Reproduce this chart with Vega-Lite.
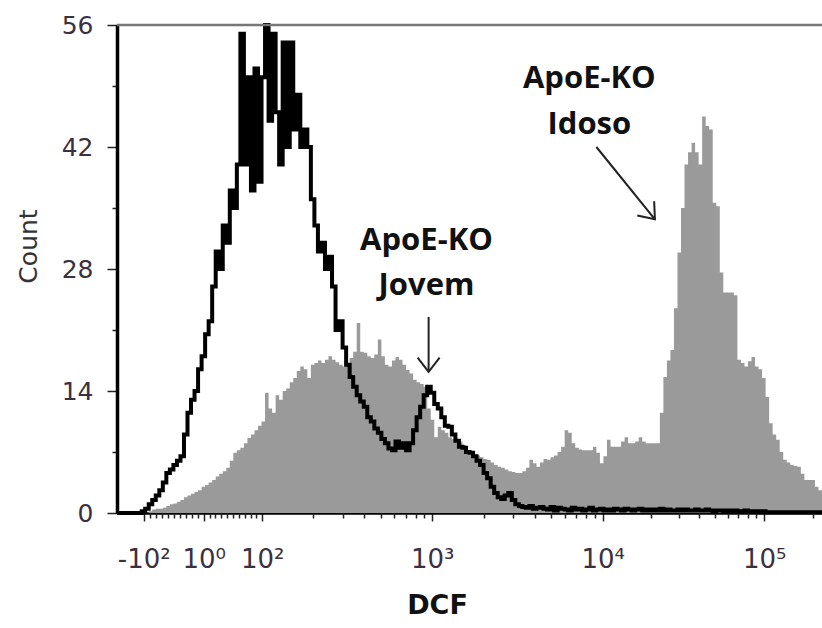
{
  "$schema": "https://vega.github.io/schema/vega-lite/v6.json",
  "width": 705,
  "height": 488,
  "autosize": {"type": "none"},
  "padding": {"left": 117, "top": 25, "right": 0, "bottom": 115},
  "background": "white",
  "config": {"view": {"stroke": null}, "axis": {"grid": false, "labelFlush": false, "labelBound": false}},
  "resolve": {"axis": {"x": "independent"}},
  "datasets": {
    "hist": [
      {"ch":0,"jovem":0,"idoso":0},{"ch":5,"jovem":0,"idoso":0},{"ch":10,"jovem":0,"idoso":0},{"ch":15,"jovem":0,"idoso":0},{"ch":20,"jovem":0,"idoso":0},
      {"ch":25,"jovem":0,"idoso":0},{"ch":30,"jovem":0,"idoso":0},{"ch":35,"jovem":0.2,"idoso":0},{"ch":40,"jovem":0.5,"idoso":0},{"ch":45,"jovem":1,"idoso":0.2},
      {"ch":50,"jovem":1.5,"idoso":0.4},{"ch":55,"jovem":2,"idoso":0.5},{"ch":60,"jovem":2.6,"idoso":0.5},{"ch":65,"jovem":3.5,"idoso":0.6},{"ch":70,"jovem":4.6,"idoso":0.8},
      {"ch":75,"jovem":5,"idoso":1},{"ch":80,"jovem":5.5,"idoso":1.1},{"ch":85,"jovem":6,"idoso":1.3},{"ch":90,"jovem":6.5,"idoso":1.5},{"ch":95,"jovem":9,"idoso":1.8},
      {"ch":100,"jovem":11.5,"idoso":2},{"ch":105,"jovem":13,"idoso":2.2},{"ch":110,"jovem":14,"idoso":2.4},{"ch":115,"jovem":16.5,"idoso":2.6},{"ch":120,"jovem":18,"idoso":3},
      {"ch":125,"jovem":20.5,"idoso":3.2},{"ch":130,"jovem":22,"idoso":3.5},{"ch":135,"jovem":26,"idoso":3.8},{"ch":140,"jovem":30,"idoso":4.2},{"ch":145,"jovem":28,"idoso":4.5},
      {"ch":150,"jovem":33,"idoso":4.8},{"ch":155,"jovem":31,"idoso":5.2},{"ch":160,"jovem":37,"idoso":6},{"ch":165,"jovem":35,"idoso":6.9},{"ch":170,"jovem":40,"idoso":7.2},
      {"ch":175,"jovem":55,"idoso":7.5},{"ch":180,"jovem":40,"idoso":8},{"ch":185,"jovem":50,"idoso":8.6},{"ch":190,"jovem":37,"idoso":9},{"ch":195,"jovem":51,"idoso":9.5},
      {"ch":200,"jovem":38,"idoso":10},{"ch":205,"jovem":50,"idoso":10.5},{"ch":210,"jovem":56,"idoso":13.8},{"ch":215,"jovem":45,"idoso":12},{"ch":220,"jovem":55,"idoso":11.5},
      {"ch":225,"jovem":46,"idoso":13.5},{"ch":230,"jovem":40,"idoso":13},{"ch":235,"jovem":54,"idoso":14},{"ch":240,"jovem":42,"idoso":14.3},{"ch":245,"jovem":54,"idoso":15},
      {"ch":250,"jovem":44,"idoso":15.5},{"ch":255,"jovem":48,"idoso":16.3},{"ch":260,"jovem":42,"idoso":16.8},{"ch":265,"jovem":44,"idoso":16.5},{"ch":270,"jovem":42,"idoso":15.5},
      {"ch":275,"jovem":36,"idoso":17},{"ch":280,"jovem":33,"idoso":17.2},{"ch":285,"jovem":30,"idoso":17.5},{"ch":290,"jovem":31,"idoso":17.2},{"ch":295,"jovem":28,"idoso":17.6},
      {"ch":300,"jovem":29.4,"idoso":18},{"ch":305,"jovem":26,"idoso":17.6},{"ch":310,"jovem":21,"idoso":17.3},{"ch":315,"jovem":22,"idoso":17},{"ch":320,"jovem":19,"idoso":16.8},
      {"ch":325,"jovem":17,"idoso":17.2},{"ch":330,"jovem":15.6,"idoso":17.8},{"ch":335,"jovem":14.5,"idoso":18.5},{"ch":340,"jovem":13.5,"idoso":21.8},{"ch":345,"jovem":12.8,"idoso":18.5},
      {"ch":350,"jovem":12.2,"idoso":18.4},{"ch":355,"jovem":11,"idoso":18},{"ch":360,"jovem":10.5,"idoso":17.8},{"ch":365,"jovem":9.7,"idoso":18.2},{"ch":370,"jovem":9.2,"idoso":19.9},
      {"ch":375,"jovem":8.5,"idoso":18},{"ch":380,"jovem":8,"idoso":17},{"ch":385,"jovem":7.4,"idoso":16.8},{"ch":390,"jovem":7.2,"idoso":17.5},{"ch":395,"jovem":8.2,"idoso":17.9},
      {"ch":400,"jovem":7.5,"idoso":17.6},{"ch":405,"jovem":8,"idoso":17},{"ch":410,"jovem":7.2,"idoso":16.4},{"ch":415,"jovem":8,"idoso":16},{"ch":420,"jovem":9.5,"idoso":15.3},
      {"ch":425,"jovem":11,"idoso":15},{"ch":430,"jovem":12.2,"idoso":14.8},{"ch":435,"jovem":13.5,"idoso":14.5},{"ch":440,"jovem":14.5,"idoso":12},{"ch":445,"jovem":13.8,"idoso":10.7},
      {"ch":450,"jovem":12.5,"idoso":8.7},{"ch":455,"jovem":12,"idoso":9.9},{"ch":460,"jovem":11,"idoso":9.5},{"ch":465,"jovem":10,"idoso":9.2},{"ch":470,"jovem":9.9,"idoso":8.7},
      {"ch":475,"jovem":9,"idoso":8.5},{"ch":480,"jovem":8.3,"idoso":8.4},{"ch":485,"jovem":7.6,"idoso":8.2},{"ch":490,"jovem":7.5,"idoso":7.8},{"ch":495,"jovem":7,"idoso":7.2},
      {"ch":500,"jovem":6.9,"idoso":7},{"ch":505,"jovem":6.5,"idoso":6.8},{"ch":510,"jovem":6,"idoso":6.6},{"ch":515,"jovem":5.5,"idoso":6.4},{"ch":520,"jovem":4.6,"idoso":6.2},
      {"ch":525,"jovem":4,"idoso":6.1},{"ch":530,"jovem":3,"idoso":5.8},{"ch":535,"jovem":2.3,"idoso":5.5},{"ch":540,"jovem":1.8,"idoso":5.3},{"ch":545,"jovem":1.6,"idoso":5.2},
      {"ch":550,"jovem":2,"idoso":5},{"ch":555,"jovem":2.3,"idoso":4.8},{"ch":560,"jovem":1.5,"idoso":4.7},{"ch":565,"jovem":1,"idoso":4.6},{"ch":570,"jovem":0.8,"idoso":4.6},
      {"ch":575,"jovem":0.7,"idoso":4.8},{"ch":580,"jovem":0.6,"idoso":5.2},{"ch":585,"jovem":0.8,"idoso":6.1},{"ch":590,"jovem":0.5,"idoso":5.7},{"ch":595,"jovem":0.6,"idoso":5.3},
      {"ch":600,"jovem":0.7,"idoso":5.8},{"ch":605,"jovem":0.5,"idoso":6.2},{"ch":610,"jovem":0.4,"idoso":6.1},{"ch":615,"jovem":0.7,"idoso":6.4},{"ch":620,"jovem":0.3,"idoso":6.6},
      {"ch":625,"jovem":0.6,"idoso":7},{"ch":630,"jovem":0.5,"idoso":7.6},{"ch":635,"jovem":0.4,"idoso":9.5},{"ch":640,"jovem":0.3,"idoso":9.2},{"ch":645,"jovem":0.6,"idoso":8},
      {"ch":650,"jovem":0.4,"idoso":7.5},{"ch":655,"jovem":0.5,"idoso":7.3},{"ch":660,"jovem":0.3,"idoso":7.2},{"ch":665,"jovem":0.4,"idoso":7.2},{"ch":670,"jovem":0.6,"idoso":7.2},
      {"ch":675,"jovem":0.3,"idoso":7.6},{"ch":680,"jovem":0.4,"idoso":6.9},{"ch":685,"jovem":0.5,"idoso":5.7},{"ch":690,"jovem":0.3,"idoso":6.5},{"ch":695,"jovem":0.4,"idoso":8.4},
      {"ch":700,"jovem":0.3,"idoso":7.6},{"ch":705,"jovem":0.5,"idoso":7.6},{"ch":710,"jovem":0.4,"idoso":7.6},{"ch":715,"jovem":0.3,"idoso":8.2},{"ch":720,"jovem":0.5,"idoso":8.7},
      {"ch":725,"jovem":0.4,"idoso":8},{"ch":730,"jovem":0.3,"idoso":8},{"ch":735,"jovem":0.4,"idoso":8.2},{"ch":740,"jovem":0.5,"idoso":8.7},{"ch":745,"jovem":0.3,"idoso":8.2},
      {"ch":750,"jovem":0.4,"idoso":8},{"ch":755,"jovem":0.3,"idoso":8},{"ch":760,"jovem":0.4,"idoso":8},{"ch":765,"jovem":0.3,"idoso":8},{"ch":770,"jovem":0.5,"idoso":11.5},
      {"ch":775,"jovem":0.3,"idoso":15.6},{"ch":780,"jovem":0.4,"idoso":17.5},{"ch":785,"jovem":0.3,"idoso":18.7},{"ch":790,"jovem":0.3,"idoso":23.5},{"ch":795,"jovem":0.4,"idoso":29.9},
      {"ch":800,"jovem":0.3,"idoso":35},{"ch":805,"jovem":0.4,"idoso":40},{"ch":810,"jovem":0.3,"idoso":41.4},{"ch":815,"jovem":0.3,"idoso":42.5},{"ch":820,"jovem":0.4,"idoso":41.4},
      {"ch":825,"jovem":0.3,"idoso":40},{"ch":830,"jovem":0.3,"idoso":45.5},{"ch":835,"jovem":0.4,"idoso":44.4},{"ch":840,"jovem":0.3,"idoso":44},{"ch":845,"jovem":0.2,"idoso":35.6},
      {"ch":850,"jovem":0.3,"idoso":35.2},{"ch":855,"jovem":0.3,"idoso":27.6},{"ch":860,"jovem":0.2,"idoso":25.3},{"ch":865,"jovem":0.3,"idoso":25.3},{"ch":870,"jovem":0.2,"idoso":25.3},
      {"ch":875,"jovem":0.3,"idoso":25},{"ch":880,"jovem":0.2,"idoso":17.6},{"ch":885,"jovem":0.2,"idoso":17.2},{"ch":890,"jovem":0.3,"idoso":16.8},{"ch":895,"jovem":0.2,"idoso":17.4},
      {"ch":900,"jovem":0.2,"idoso":17.9},{"ch":905,"jovem":0.2,"idoso":16.8},{"ch":910,"jovem":0.1,"idoso":16.5},{"ch":915,"jovem":0.2,"idoso":15.5},{"ch":920,"jovem":0.1,"idoso":13.3},
      {"ch":925,"jovem":0.1,"idoso":10.3},{"ch":930,"jovem":0.1,"idoso":9},{"ch":935,"jovem":0.1,"idoso":8.4},{"ch":940,"jovem":0.1,"idoso":7},{"ch":945,"jovem":0.1,"idoso":6.1},
      {"ch":950,"jovem":0.1,"idoso":5.8},{"ch":955,"jovem":0.1,"idoso":5.5},{"ch":960,"jovem":0.1,"idoso":5.4},{"ch":965,"jovem":0.1,"idoso":5.3},{"ch":970,"jovem":0.1,"idoso":4.5},
      {"ch":975,"jovem":0.1,"idoso":3.8},{"ch":980,"jovem":0.1,"idoso":3.8},{"ch":985,"jovem":0.1,"idoso":3.8},{"ch":990,"jovem":0.1,"idoso":3},{"ch":995,"jovem":0.1,"idoso":2.6},
      {"ch":1000,"jovem":0.1,"idoso":2.6}
    ],
    "frame": [{"count": 56}],
    "notes": [
      {"ch": 439, "count": 31.2, "text": "ApoE-KO"},
      {"ch": 439, "count": 26, "text": "Jovem"},
      {"ch": 670, "count": 49.8, "text": "ApoE-KO"},
      {"ch": 670, "count": 44.5, "text": "Idoso"}
    ],
    "arrows": [
      {"name": "jovem", "ch": 442, "count": 22.5, "ch2": 442, "count2": 16.2},
      {"name": "idoso", "ch": 680, "count": 42, "ch2": 763, "count2": 33.7}
    ]
  },
  "layer": [
    {
      "data": {"name": "hist"},
      "mark": {"type": "area", "interpolate": "step-after", "color": "#9a9a9a", "opacity": 1},
      "encoding": {
        "x": {
          "field": "ch", "type": "quantitative",
          "scale": {"domain": [0, 1000], "nice": false, "zero": false},
          "axis": {
            "orient": "bottom",
            "values": [38,123,206,447,689,918],
            "labelExpr": "datum.value == 38 ? '-10²' : datum.value == 123 ? '10⁰' : datum.value == 206 ? '10²' : datum.value == 447 ? '10³' : datum.value == 689 ? '10⁴' : '10⁵'",
            "title": "DCF",
            "titleFont": "DejaVu Sans", "titleFontWeight": "bold", "titleFontSize": 27, "titleColor": "#111",
            "titleX": 320, "titleY": 92, "titleBaseline": "middle", "titleAlign": "center",
            "labelFont": "DejaVu Sans", "labelFontSize": 26, "labelColor": "#3a3040",
            "labelBaseline": "middle", "labelPadding": 38, "labelFlush": false, "labelOverlap": false, "labelBound": false,
            "domainColor": "#000", "domainWidth": 2.5,
            "tickColor": "#222", "tickWidth": 1.5, "tickSize": 8
          }
        },
        "y": {
          "field": "idoso", "type": "quantitative",
          "scale": {"domain": [0, 56], "nice": false},
          "axis": {
            "values": [0,3.5,7,10.5,14,17.5,21,24.5,28,31.5,35,38.5,42,45.5,49,52.5,56],
            "labelExpr": "datum.value % 14 === 0 ? datum.value : ''",
            "title": "Count",
            "titleFont": "DejaVu Sans", "titleFontWeight": "normal", "titleFontSize": 25, "titleColor": "#333",
            "titleX": -89, "titleY": 221, "titleAngle": 270, "titleBaseline": "middle", "titleAlign": "center",
            "labelFont": "DejaVu Sans", "labelFontSize": 25, "labelColor": "#3a3040",
            "labelBaseline": "middle", "labelPadding": 14, "labelFlush": false, "labelOverlap": false, "labelBound": false,
            "domainColor": "#000", "domainWidth": 3.5,
            "tickColor": "#222", "tickWidth": 1.5,
            "tickSize": {"condition": {"test": "datum.value % 14 === 0", "value": 10}, "value": 5}
          }
        }
      }
    },
    {
      "data": {"name": "hist"},
      "mark": {"type": "line", "interpolate": "step-after", "color": "#000", "strokeWidth": 4, "strokeJoin": "miter"},
      "encoding": {
        "x": {
          "field": "ch", "type": "quantitative",
          "axis": {
            "orient": "bottom",
            "values": [46.5,55,63.5,72,80.5,89,97.5,106,114.5,131.3,139.6,147.9,156.2,164.5,172.8,181.1,189.4,197.7,278.5,321,351,374,393.5,409.5,423.5,436,520,562,593,616,635,651,665.5,678,758,797,826,848,866,881.5,895,906.5,987],
            "labels": false, "domain": false, "title": null,
            "tickColor": "#222", "tickWidth": 1.5, "tickSize": 5
          }
        },
        "y": {"field": "jovem", "type": "quantitative"}
      }
    },
    {
      "data": {"name": "frame"},
      "mark": {"type": "rule", "color": "#777", "strokeWidth": 2.5},
      "encoding": {"y": {"field": "count", "type": "quantitative"}}
    },
    {
      "data": {"name": "notes"},
      "mark": {"type": "text", "font": "Open Sans", "fontWeight": "bold", "fontSize": 31, "color": "#111", "baseline": "middle", "align": "center"},
      "encoding": {
        "x": {"field": "ch", "type": "quantitative", "axis": null},
        "y": {"field": "count", "type": "quantitative"},
        "text": {"field": "text"}
      }
    },
    {
      "data": {"name": "arrows"},
      "mark": {"type": "rule", "color": "#222", "strokeWidth": 2},
      "encoding": {
        "x": {"field": "ch", "type": "quantitative", "axis": null},
        "y": {"field": "count", "type": "quantitative"},
        "x2": {"field": "ch2"},
        "y2": {"field": "count2"}
      }
    },
    {
      "data": {"name": "arrows"},
      "transform": [{"filter": "datum.name == 'jovem'"}],
      "mark": {"type": "point", "shape": "M-1,-1.3L0,0L1,-1.3", "size": 484, "filled": false, "stroke": "#222", "strokeWidth": 2, "opacity": 1},
      "encoding": {
        "x": {"field": "ch2", "type": "quantitative", "axis": null},
        "y": {"field": "count2", "type": "quantitative"}
      }
    },
    {
      "data": {"name": "arrows"},
      "transform": [{"filter": "datum.name == 'idoso'"}],
      "mark": {"type": "point", "shape": "M-1,-1.3L0,0L1,-1.3", "size": 484, "angle": 320, "filled": false, "stroke": "#222", "strokeWidth": 2, "opacity": 1},
      "encoding": {
        "x": {"field": "ch2", "type": "quantitative", "axis": null},
        "y": {"field": "count2", "type": "quantitative"}
      }
    }
  ]
}
